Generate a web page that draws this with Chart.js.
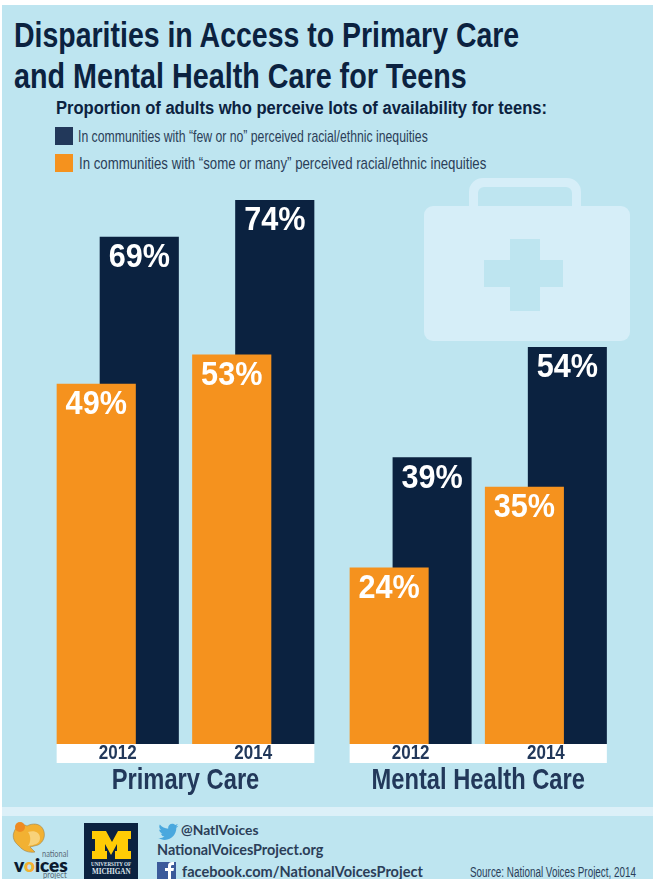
<!DOCTYPE html>
<html>
<head>
<meta charset="utf-8">
<title>Disparities in Access to Primary Care and Mental Health Care for Teens</title>
<script src="https://cdn.jsdelivr.net/npm/chart.js@4"></script>
<style>
  html, body { margin: 0; padding: 0; background: #fff; }
  #page { position: relative; width: 653px; height: 879px; overflow: hidden; }
  #panel { position: absolute; left: 2px; top: 5px; right: 0; bottom: 0; background: #BEE5F0; }
  #page div.t { position: absolute; white-space: nowrap; line-height: 1; transform-origin: left center; }
  .sans { font-family: "Liberation Sans", sans-serif; }
  .title { font-size: 35px; font-weight: 700; color: #0B2240; left: 14px; }
  .sub { font-size: 18px; font-weight: 700; color: #0B2240; left: 56px; top: 99px; }
  .leg { font-size: 17px; color: #2B3E58; }
  .swatch { position: absolute; left: 55px; width: 18px; height: 18px; }
  .soc { font-family: Lato, "Open Sans", sans-serif; font-weight: 700; color: #2B3E58; }
  canvas { position: absolute; top: 150px; }
  svg { position: absolute; left: 0; top: 0; }
</style>
</head>
<body>
<div id="page">
  <div id="panel"></div>

  <!-- first aid kit behind the bars, footer band and logos -->
  <svg width="653" height="879">
    <path d="M469 206V192a14 14 0 0 1 14-14h84a14 14 0 0 1 14 14v14h-9V193a6 6 0 0 0-6-6h-82a6 6 0 0 0-6 6v13z" fill="#D6EEF8"/>
    <rect x="424" y="206" width="206" height="135" rx="9" fill="#D6EEF8"/>
    <path d="M510 239h30v21h23v27h-23v24h-30v-24h-26v-27h26z" fill="#BEE5F0"/>
    <rect x="2" y="807" width="651" height="9" fill="#DCF0F8"/>

    <!-- national voices mark -->
    <path d="M14 832c2-6 8-9 13-6 5-3 13-3 16 3 3 6 1 13-5 16l-8 2 5 5c-6 1-12-1-16-6-5-4-7-9-5-14z" fill="#F2B132" stroke="#9A8450" stroke-width=".6"/>
    <circle cx="20" cy="827" r="5" fill="#EE8A22"/>
    <path d="M28 832c6-2 12 0 12 6s-6 7-12 8c3-4 3-10 0-14z" fill="#F8D27A"/>

    <!-- university block M -->
    <rect x="84" y="823" width="54" height="56" fill="#0B2240"/>
    <path d="M92 831h14l6 11 6-11h13v8h-3v12h3v8h-16v-8h2v-7l-6 11-6-11v7h2v8H92v-8h3v-12h-3z" fill="#FFCB05"/>

    <!-- twitter bird -->
    <path transform="translate(157 820) scale(0.95)" fill="#4AA8DE" d="M22.46 6c-.77.35-1.6.58-2.46.69.88-.53 1.56-1.37 1.88-2.38-.83.5-1.75.85-2.72 1.05C18.37 4.5 17.26 4 16 4c-2.35 0-4.27 1.92-4.27 4.29 0 .34.04.67.11.98C8.28 9.09 5.11 7.38 3 4.79c-.37.63-.58 1.37-.58 2.15 0 1.49.75 2.81 1.91 3.56-.71 0-1.37-.2-1.95-.5v.03c0 2.08 1.48 3.82 3.44 4.21a4.22 4.22 0 0 1-1.93.07 4.28 4.28 0 0 0 4 2.98 8.521 8.521 0 0 1-5.33 1.84c-.34 0-.68-.02-1.02-.06C3.44 20.29 5.7 21 8.12 21 16 21 20.33 14.46 20.33 8.79c0-.19 0-.37-.01-.56.84-.6 1.56-1.36 2.14-2.23z"/>

    <!-- facebook tile -->
    <rect x="157" y="862" width="19" height="17" fill="#3B5A9A"/>
    <path d="M168 879v-8h-3v-3h3v-2c0-3 1.500-4 4-4h2v3h-1.500c-1 0-1.500.5-1.500 1.500v1.500h3l-.5 3H171v8z" fill="#fff"/>
  </svg>

  <div class="t sans title" data-w="505" style="top:17px">Disparities in Access to Primary Care</div>
  <div class="t sans title" data-w="453" style="top:58px">and Mental Health Care for Teens</div>
  <div class="t sans sub" data-w="491">Proportion of adults who perceive lots of availability for teens:</div>

  <div class="swatch" style="top:127px;background:#22385A"></div>
  <div class="t sans leg" data-w="350" style="left:78px;top:128px" id="legA"></div>
  <div class="swatch" style="top:154px;background:#F5921E"></div>
  <div class="t sans leg" data-w="407" style="left:79px;top:155px" id="legB"></div>

  <canvas id="primaryChart" width="326" height="650" style="left:0"></canvas>
  <canvas id="mentalChart" width="327" height="650" style="left:326px"></canvas>

  <div class="t soc" data-w="78" style="left:181px;top:823px;font-size:14px">@NatlVoices</div>
  <div class="t soc" data-w="166" style="left:157px;top:842px;font-size:15px">NationalVoicesProject.org</div>
  <div class="t soc" data-w="241" style="left:182px;top:864px;font-size:15.500px">facebook.com/NationalVoicesProject</div>
  <div class="t sans" data-w="166" style="left:470px;top:865px;font-size:14px;color:#2B3E58">Source: National Voices Project, 2014</div>

  <div class="t" data-w="26" style="left:42px;top:847px;font:10px Lato,sans-serif;color:#5A6A78">national</div>
  <div class="t" data-w="54" style="left:14px;top:853px;font:800 19px Lato,sans-serif;color:#0B1A2E">v<span style="color:#F2B132">o</span>ices</div>
  <div class="t" data-w="24" style="left:43px;top:869px;font:9px Lato,sans-serif;color:#5A6A78">project</div>
  <div class="t" data-w="40" style="left:91px;top:860px;font:700 6.500px 'Liberation Serif',serif;color:#DCE3EA">UNIVERSITY OF</div>
  <div class="t" data-w="39" style="left:91.500px;top:867px;font:700 8px 'Liberation Serif',serif;color:#DCE3EA">MICHIGAN</div>
</div>

<script>
var years = ['2012', '2014'];
var fewLabel = 'In communities with \u201cfew or no\u201d perceived racial/ethnic inequities';
var someLabel = 'In communities with \u201csome or many\u201d perceived racial/ethnic inequities';

var primaryFew = [69, 74];
var primarySome = [49, 53];
var mentalFew = [39, 54];
var mentalSome = [24, 35];

var NAVY = '#0B2240';
var ORANGE = '#F5921E';
var INK = '#22385A';
var FONT = '"Liberation Sans", sans-serif';

document.getElementById('legA').textContent = fewLabel;
document.getElementById('legB').textContent = someLabel;

// only a regular width sans is around, so squeeze the text to a condensed look
document.querySelectorAll('[data-w]').forEach(function(el) {
    el.style.transform = 'scaleX(' + (el.dataset.w / el.offsetWidth) + ')';
});

function squeezedText(ctx, text, x, y, squeeze) {
    ctx.save();
    ctx.translate(x, y);
    ctx.scale(squeeze, 1);
    ctx.fillText(text, 0, 0);
    ctx.restore();
}

// white strip under the bars, as wide as the two groups
var yearBand = {
    id: 'yearBand',
    beforeDatasetsDraw: function(chart) {
        var some = chart.getDatasetMeta(0).data[0];
        var few = chart.getDatasetMeta(1).data[1];
        var ctx = chart.ctx;
        var left = some.x - some.width / 2;
        var right = few.x + few.width / 2;
        ctx.save();
        ctx.fillStyle = '#fff';
        ctx.fillRect(left, chart.chartArea.bottom, right - left, 19);
        ctx.restore();
    }
};

// percent labels inside the top of each bar
var barLabels = {
    id: 'barLabels',
    afterDatasetsDraw: function(chart) {
        var ctx = chart.ctx;
        ctx.save();
        ctx.fillStyle = '#fff';
        ctx.font = 'bold 34px ' + FONT;
        ctx.textAlign = 'center';
        ctx.textBaseline = 'middle';
        chart.data.datasets.forEach(function(ds, i) {
            chart.getDatasetMeta(i).data.forEach(function(bar, j) {
                squeezedText(ctx, ds.data[j] + '%', bar.x, bar.y + 21, 0.9);
            });
        });
        ctx.restore();
    }
};

// year labels and the group name under the axis
var axisText = {
    id: 'axisText',
    afterDatasetsDraw: function(chart) {
        var ctx = chart.ctx;
        var scale = chart.scales.x;
        var bottom = chart.chartArea.bottom;
        ctx.save();
        ctx.fillStyle = INK;
        ctx.textAlign = 'center';
        ctx.textBaseline = 'middle';
        ctx.font = 'bold 20px ' + FONT;
        scale.getTicks().forEach(function(tick, i) {
            squeezedText(ctx, scale.getLabelForValue(tick.value), scale.getPixelForTick(i), bottom + 9, 0.85);
        });
        ctx.font = 'bold 30px ' + FONT;
        squeezedText(ctx, chart.options.plugins.axisText.name, (chart.chartArea.left + chart.chartArea.right) / 2, bottom + 37, 0.79);
        ctx.restore();
    }
};

function makeChart(id, name, some, few, padLeft, padRight) {
    return new Chart(document.getElementById(id), {
        type: 'bar',
        data: {
            labels: years,
            datasets: [
                { label: someLabel, data: some, backgroundColor: ORANGE },
                { label: fewLabel, data: few, backgroundColor: NAVY }
            ]
        },
        options: {
            responsive: false,
            animation: false,
            // bars of one year overlap, so the bar share goes above 1
            categoryPercentage: 0.635,
            barPercentage: 1.84,
            layout: { padding: { left: padLeft, right: padRight, top: 6, bottom: 0 } },
            plugins: {
                legend: { display: false },
                tooltip: { enabled: false },
                axisText: { name: name }
            },
            scales: {
                y: { display: false, min: 0, max: 80 },
                x: {
                    afterFit: function(scale) { scale.height = 56; },
                    grid: { display: false, drawTicks: false },
                    border: { display: false },
                    ticks: { display: false }
                }
            }
        },
        plugins: [yearBand, barLabels, axisText]
    });
}

makeChart('primaryChart', 'Primary Care', primarySome, primaryFew, 50, 5);
makeChart('mentalChart', 'Mental Health Care', mentalSome, mentalFew, 17, 39.500);
</script>
</body>
</html>
